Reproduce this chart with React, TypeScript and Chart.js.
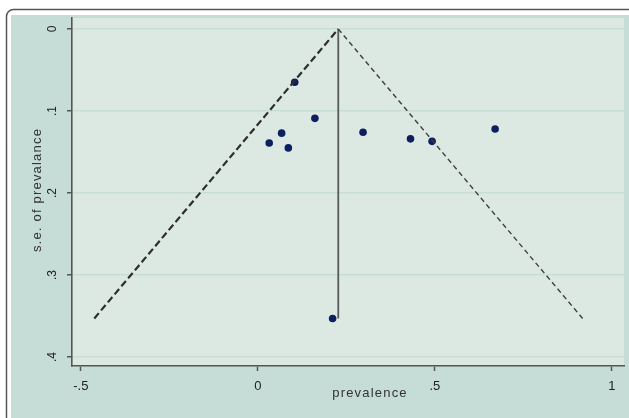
import React, { useEffect, useRef } from "react";
import { Chart, registerables } from "chart.js";

Chart.register(...registerables);

// Study estimates (prevalence) and their standard errors
const prevalence = [0.104, 0.161, 0.067, 0.032, 0.086, 0.297, 0.431, 0.492, 0.670, 0.211];
const seOfPrevalence = [0.065, 0.109, 0.127, 0.139, 0.145, 0.126, 0.134, 0.137, 0.122, 0.353];

// Pooled estimate and pseudo 95% confidence limits
const pooledEstimate = 0.227;
const maxSE = 0.353;
const lowerLimitX = [-0.462, 0.227];
const lowerLimitSE = [0.353, 0];
const upperLimitX = [0.227, 0.917];
const upperLimitSE = [0, 0.353];

const xTicks = [-0.5, 0, 0.5, 1];
const xTickLabels = ["-.5", "0", ".5", "1"];
const yTicks = [0, 0.1, 0.2, 0.3, 0.4];
const yTickLabels = ["0", ".1", ".2", ".3", ".4"];

const xTitle = "prevalence";
const yTitle = "s.e. of prevalance";

const OUTER_BG = "#c5dcd7";
const PLOT_BG = "#dce8e2";
const GRID = "#c9ddd7";
const AXIS = "#555555";
const TEXT = "#222222";

export default function App() {
  const ref = useRef<HTMLCanvasElement | null>(null);

  useEffect(() => {
    document.body.style.margin = "0";
    const canvas = ref.current;
    if (!canvas) return;

    const bgPlugin = {
      id: "bgPlugin",
      beforeDraw(chart: any) {
        const { ctx, chartArea } = chart;
        const W = chart.width;
        const H = chart.height;
        ctx.save();
        ctx.fillStyle = "#ffffff";
        ctx.fillRect(0, 0, W, H);
        // frame
        ctx.strokeStyle = "#555555";
        ctx.lineWidth = 1.5;
        ctx.beginPath();
        (ctx as any).roundRect(6.5, 9.5, W + 20, H + 20, 7);
        ctx.stroke();
        ctx.fillStyle = OUTER_BG;
        ctx.fillRect(11, 15, W - 11, H - 15);
        ctx.fillStyle = PLOT_BG;
        ctx.fillRect(chartArea.left, chartArea.top, chartArea.right - chartArea.left, chartArea.bottom - chartArea.top);
        ctx.restore();
      },
      afterDraw(chart: any) {
        const { ctx } = chart;
        const xs = chart.scales.x;
        const ys = chart.scales.y;
        ctx.save();
        ctx.fillStyle = TEXT;
        // x tick labels
        ctx.font = "13px 'Liberation Sans', Arial, sans-serif";
        ctx.textAlign = "center";
        ctx.textBaseline = "middle";
        xTicks.forEach((v, i) => {
          ctx.fillText(xTickLabels[i], xs.getPixelForValue(v), 386);
        });
        // y tick labels (rotated)
        ctx.font = "12px 'Liberation Sans', Arial, sans-serif";
        yTicks.forEach((v, i) => {
          const py = ys.getPixelForValue(v);
          ctx.save();
          ctx.translate(56, py);
          ctx.rotate(-Math.PI / 2);
          ctx.textAlign = "center";
          ctx.textBaseline = "alphabetic";
          ctx.fillText(yTickLabels[i], 0, 0);
          ctx.restore();
        });
        // titles
        ctx.font = "13px 'Liberation Sans', Arial, sans-serif";
        (ctx as any).letterSpacing = "1.2px";
        ctx.fillStyle = "#333333";
        ctx.textAlign = "center";
        ctx.textBaseline = "middle";
        ctx.fillText(xTitle, 370, 393);
        ctx.save();
        ctx.translate(37, 190);
        ctx.rotate(-Math.PI / 2);
        ctx.fillText(yTitle, 0, 0);
        ctx.restore();
        ctx.restore();
      },
    };

    const chart = new Chart(canvas, {
      type: "scatter",
      data: {
        datasets: [
          {
            type: "line",
            label: "upper",
            data: upperLimitX.map((x, i) => ({ x, y: upperLimitSE[i] })),
            borderColor: "#3f3f3f",
            borderWidth: 1.4,
            borderDash: [5, 3.5],
            pointRadius: 0,
            fill: false,
          },
          {
            type: "line",
            label: "lower",
            data: lowerLimitX.map((x, i) => ({ x, y: lowerLimitSE[i] })),
            borderColor: "#2e2e2e",
            borderWidth: 2.2,
            borderDash: [7, 3.5],
            pointRadius: 0,
            fill: false,
          },
          {
            type: "line",
            label: "pooled",
            data: [
              { x: pooledEstimate, y: 0 },
              { x: pooledEstimate, y: maxSE },
            ],
            borderColor: "#5a5a5a",
            borderWidth: 1.8,
            pointRadius: 0,
            fill: false,
          },
          {
            type: "scatter",
            label: "studies",
            data: prevalence.map((x, i) => ({ x, y: seOfPrevalence[i] })),
            backgroundColor: "#0d1f5e",
            borderColor: "#0d1f5e",
            pointRadius: 3.8,
            pointBorderWidth: 0,
          },
        ],
      },
      options: {
        responsive: false,
        animation: false,
        devicePixelRatio: 1,
        layout: { padding: { left: 0, top: 18, right: 5, bottom: 0 } },
        plugins: {
          legend: { display: false },
          tooltip: { enabled: false },
          title: { display: false },
        },
        scales: {
          x: {
            type: "linear",
            min: -0.525,
            max: 1.034,
            afterBuildTicks: (s: any) => {
              s.ticks = xTicks.map((v) => ({ value: v }));
            },
            afterFit: (s: any) => {
              s.height = 52;
            },
            ticks: { display: false },
            grid: {
              drawOnChartArea: false,
              drawTicks: true,
              tickLength: 5,
              tickColor: AXIS,
              tickWidth: 1.5,
            },
            border: { display: true, color: AXIS, width: 1.6 },
          },
          y: {
            type: "linear",
            reverse: true,
            min: -0.0134,
            max: 0.411,
            afterBuildTicks: (s: any) => {
              s.ticks = yTicks.map((v) => ({ value: v }));
            },
            afterFit: (s: any) => {
              s.width = 72;
            },
            ticks: { display: false },
            grid: {
              color: GRID,
              lineWidth: 1.5,
              drawTicks: true,
              tickLength: 5,
              tickColor: AXIS,
              tickWidth: 1.5,
            },
            border: { display: true, color: AXIS, width: 1.6 },
          },
        },
      },
      plugins: [bgPlugin],
    } as any);

    return () => chart.destroy();
  }, []);

  return (
    <div style={{ width: 629, height: 418 }}>
      <canvas ref={ref} width={629} height={418} style={{ display: "block" }} />
    </div>
  );
}
